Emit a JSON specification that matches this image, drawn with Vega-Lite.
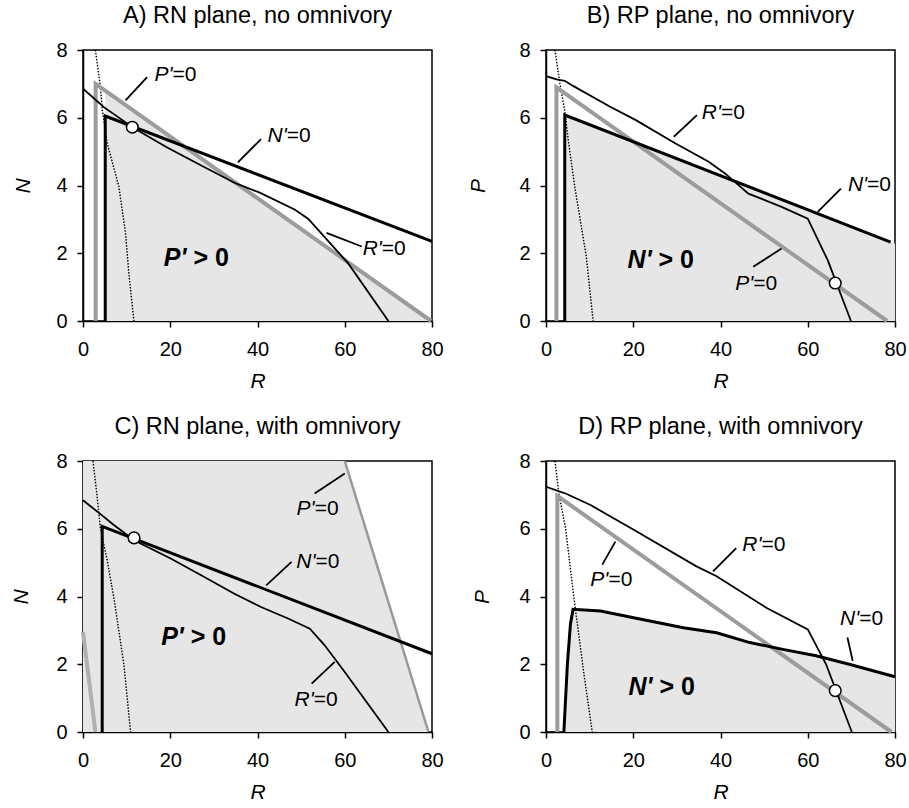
{
  "$schema": "https://vega.github.io/schema/vega-lite/v6.json",
  "padding": {"left": 10, "top": 2, "right": 5, "bottom": 5},
  "background": "white",
  "config": {
    "font": "Liberation Sans",
    "view": {"stroke": "black", "strokeWidth": 1.5},
    "axis": {"grid": false, "domainColor": "black", "domainWidth": 1.5, "tickColor": "black", "tickWidth": 1.5, "tickSize": 6, "labelFontSize": 20, "labelColor": "black", "labelPadding": 10, "labelFlush": false, "labelFont": "Liberation Sans", "titleFont": "Liberation Sans", "titleFontSize": 21, "titleFontStyle": "italic", "titleFontWeight": "normal", "titleColor": "black"},
    "axisX": {"titlePadding": 11, "labelPadding": 12},
    "axisY": {"titlePadding": 22},
    "title": {"fontSize": 23.5, "fontWeight": "normal", "color": "black", "font": "Liberation Sans", "offset": 13, "anchor": "middle"}
  },
  "datasets": {
    "lines": [
      {"p": "A", "s": "P_iso", "o": 1, "R": 2.9, "Y": 0},
      {"p": "A", "s": "P_iso", "o": 2, "R": 2.9, "Y": 7.0},
      {"p": "A", "s": "P_iso", "o": 3, "R": 79.8, "Y": 0},
      {"p": "A", "s": "N_iso", "o": 1, "R": 5.1, "Y": 0},
      {"p": "A", "s": "N_iso", "o": 2, "R": 5.1, "Y": 6.05},
      {"p": "A", "s": "N_iso", "o": 3, "R": 80, "Y": 2.35},
      {"p": "A", "s": "R_iso", "o": 1, "R": 0, "Y": 6.86},
      {"p": "A", "s": "R_iso", "o": 2, "R": 4.8, "Y": 6.31},
      {"p": "A", "s": "R_iso", "o": 3, "R": 7.5, "Y": 6.07},
      {"p": "A", "s": "R_iso", "o": 4, "R": 11.3, "Y": 5.72},
      {"p": "A", "s": "R_iso", "o": 5, "R": 19.3, "Y": 5.12},
      {"p": "A", "s": "R_iso", "o": 6, "R": 27, "Y": 4.6},
      {"p": "A", "s": "R_iso", "o": 7, "R": 34.7, "Y": 4.08},
      {"p": "A", "s": "R_iso", "o": 8, "R": 40.5, "Y": 3.79},
      {"p": "A", "s": "R_iso", "o": 9, "R": 48.5, "Y": 3.29},
      {"p": "A", "s": "R_iso", "o": 10, "R": 51.6, "Y": 3.02},
      {"p": "A", "s": "R_iso", "o": 11, "R": 60.8, "Y": 1.7},
      {"p": "A", "s": "R_iso", "o": 12, "R": 70, "Y": 0},
      {"p": "A", "s": "boundary", "o": 1, "R": 2.84, "Y": 8},
      {"p": "A", "s": "boundary", "o": 2, "R": 4.0, "Y": 6.9},
      {"p": "A", "s": "boundary", "o": 3, "R": 4.4, "Y": 6.26},
      {"p": "A", "s": "boundary", "o": 4, "R": 5.5, "Y": 5.27},
      {"p": "A", "s": "boundary", "o": 5, "R": 8.2, "Y": 3.98},
      {"p": "A", "s": "boundary", "o": 6, "R": 9.75, "Y": 2.6},
      {"p": "A", "s": "boundary", "o": 7, "R": 10.5, "Y": 1.41},
      {"p": "A", "s": "boundary", "o": 8, "R": 11.67, "Y": 0},

      {"p": "B", "s": "P_iso", "o": 1, "R": 2.4, "Y": 0},
      {"p": "B", "s": "P_iso", "o": 2, "R": 2.4, "Y": 6.9},
      {"p": "B", "s": "P_iso", "o": 3, "R": 78.2, "Y": 0},
      {"p": "B", "s": "N_iso", "o": 1, "R": 4.3, "Y": 0},
      {"p": "B", "s": "N_iso", "o": 2, "R": 4.3, "Y": 6.08},
      {"p": "B", "s": "N_iso", "o": 3, "R": 79, "Y": 2.33},
      {"p": "B", "s": "R_iso", "o": 1, "R": 0, "Y": 7.23},
      {"p": "B", "s": "R_iso", "o": 2, "R": 2.4, "Y": 7.13},
      {"p": "B", "s": "R_iso", "o": 3, "R": 4.3, "Y": 7.09},
      {"p": "B", "s": "R_iso", "o": 4, "R": 6.2, "Y": 6.94},
      {"p": "B", "s": "R_iso", "o": 5, "R": 14.6, "Y": 6.33},
      {"p": "B", "s": "R_iso", "o": 6, "R": 20.6, "Y": 5.93},
      {"p": "B", "s": "R_iso", "o": 7, "R": 29.7, "Y": 5.24},
      {"p": "B", "s": "R_iso", "o": 8, "R": 37.3, "Y": 4.7},
      {"p": "B", "s": "R_iso", "o": 9, "R": 41.1, "Y": 4.35},
      {"p": "B", "s": "R_iso", "o": 10, "R": 46.4, "Y": 3.76},
      {"p": "B", "s": "R_iso", "o": 11, "R": 54, "Y": 3.37},
      {"p": "B", "s": "R_iso", "o": 12, "R": 60, "Y": 3.02},
      {"p": "B", "s": "R_iso", "o": 13, "R": 64.6, "Y": 1.79},
      {"p": "B", "s": "R_iso", "o": 14, "R": 69.9, "Y": 0},
      {"p": "B", "s": "boundary", "o": 1, "R": 2.05, "Y": 8},
      {"p": "B", "s": "boundary", "o": 2, "R": 3.2, "Y": 7.0},
      {"p": "B", "s": "boundary", "o": 3, "R": 4.3, "Y": 6.2},
      {"p": "B", "s": "boundary", "o": 4, "R": 5.1, "Y": 5.34},
      {"p": "B", "s": "boundary", "o": 5, "R": 6.6, "Y": 3.96},
      {"p": "B", "s": "boundary", "o": 6, "R": 9.25, "Y": 1.89},
      {"p": "B", "s": "boundary", "o": 7, "R": 10.8, "Y": 0},

      {"p": "C", "s": "P_iso", "o": 1, "R": 60, "Y": 8},
      {"p": "C", "s": "P_iso", "o": 2, "R": 79.2, "Y": 0},
      {"p": "C", "s": "P_iso_low", "o": 1, "R": 0, "Y": 2.95},
      {"p": "C", "s": "P_iso_low", "o": 2, "R": 2.85, "Y": 0},
      {"p": "C", "s": "N_iso", "o": 1, "R": 4.4, "Y": 0},
      {"p": "C", "s": "N_iso", "o": 2, "R": 4.4, "Y": 6.07},
      {"p": "C", "s": "N_iso", "o": 3, "R": 80, "Y": 2.31},
      {"p": "C", "s": "R_iso", "o": 1, "R": 0, "Y": 6.84},
      {"p": "C", "s": "R_iso", "o": 2, "R": 4.8, "Y": 6.35},
      {"p": "C", "s": "R_iso", "o": 3, "R": 6.7, "Y": 6.15},
      {"p": "C", "s": "R_iso", "o": 4, "R": 11.7, "Y": 5.66},
      {"p": "C", "s": "R_iso", "o": 5, "R": 20.1, "Y": 5.12},
      {"p": "C", "s": "R_iso", "o": 6, "R": 27.5, "Y": 4.6},
      {"p": "C", "s": "R_iso", "o": 7, "R": 34.7, "Y": 4.08},
      {"p": "C", "s": "R_iso", "o": 8, "R": 40.8, "Y": 3.69},
      {"p": "C", "s": "R_iso", "o": 9, "R": 47, "Y": 3.35},
      {"p": "C", "s": "R_iso", "o": 10, "R": 52, "Y": 3.05},
      {"p": "C", "s": "R_iso", "o": 11, "R": 55.4, "Y": 2.56},
      {"p": "C", "s": "R_iso", "o": 12, "R": 60, "Y": 1.77},
      {"p": "C", "s": "R_iso", "o": 13, "R": 70, "Y": 0},
      {"p": "C", "s": "boundary", "o": 1, "R": 2.3, "Y": 8},
      {"p": "C", "s": "boundary", "o": 2, "R": 3.2, "Y": 6.99},
      {"p": "C", "s": "boundary", "o": 3, "R": 4.0, "Y": 6.0},
      {"p": "C", "s": "boundary", "o": 4, "R": 5.5, "Y": 5.1},
      {"p": "C", "s": "boundary", "o": 5, "R": 7.1, "Y": 3.94},
      {"p": "C", "s": "boundary", "o": 6, "R": 9.4, "Y": 1.97},
      {"p": "C", "s": "boundary", "o": 7, "R": 10.9, "Y": 0},

      {"p": "D", "s": "P_iso", "o": 1, "R": 2.6, "Y": 0},
      {"p": "D", "s": "P_iso", "o": 2, "R": 2.6, "Y": 6.97},
      {"p": "D", "s": "P_iso", "o": 3, "R": 79.2, "Y": 0},
      {"p": "D", "s": "N_iso", "o": 1, "R": 4.1, "Y": 0},
      {"p": "D", "s": "N_iso", "o": 2, "R": 4.9, "Y": 2.0},
      {"p": "D", "s": "N_iso", "o": 3, "R": 5.6, "Y": 3.18},
      {"p": "D", "s": "N_iso", "o": 4, "R": 6.2, "Y": 3.62},
      {"p": "D", "s": "N_iso", "o": 5, "R": 12.5, "Y": 3.57},
      {"p": "D", "s": "N_iso", "o": 6, "R": 20.1, "Y": 3.37},
      {"p": "D", "s": "N_iso", "o": 7, "R": 31.5, "Y": 3.08},
      {"p": "D", "s": "N_iso", "o": 8, "R": 39.1, "Y": 2.93},
      {"p": "D", "s": "N_iso", "o": 9, "R": 46.7, "Y": 2.64},
      {"p": "D", "s": "N_iso", "o": 10, "R": 54.3, "Y": 2.44},
      {"p": "D", "s": "N_iso", "o": 11, "R": 61.9, "Y": 2.25},
      {"p": "D", "s": "N_iso", "o": 12, "R": 69.5, "Y": 2.0},
      {"p": "D", "s": "N_iso", "o": 13, "R": 80, "Y": 1.63},
      {"p": "D", "s": "R_iso", "o": 1, "R": 0, "Y": 7.24},
      {"p": "D", "s": "R_iso", "o": 2, "R": 3.35, "Y": 7.09},
      {"p": "D", "s": "R_iso", "o": 3, "R": 4.5, "Y": 7.04},
      {"p": "D", "s": "R_iso", "o": 4, "R": 10.2, "Y": 6.7},
      {"p": "D", "s": "R_iso", "o": 5, "R": 20.1, "Y": 5.97},
      {"p": "D", "s": "R_iso", "o": 6, "R": 34.5, "Y": 4.89},
      {"p": "D", "s": "R_iso", "o": 7, "R": 39.1, "Y": 4.6},
      {"p": "D", "s": "R_iso", "o": 8, "R": 50.5, "Y": 3.67},
      {"p": "D", "s": "R_iso", "o": 9, "R": 60, "Y": 3.03},
      {"p": "D", "s": "R_iso", "o": 10, "R": 64.2, "Y": 2.0},
      {"p": "D", "s": "R_iso", "o": 11, "R": 70.1, "Y": 0},
      {"p": "D", "s": "boundary", "o": 1, "R": 2.05, "Y": 8},
      {"p": "D", "s": "boundary", "o": 2, "R": 3.0, "Y": 7.0},
      {"p": "D", "s": "boundary", "o": 3, "R": 4.5, "Y": 6.0},
      {"p": "D", "s": "boundary", "o": 4, "R": 6.4, "Y": 3.96},
      {"p": "D", "s": "boundary", "o": 5, "R": 8.7, "Y": 1.71},
      {"p": "D", "s": "boundary", "o": 6, "R": 10.6, "Y": 0}
    ],
    "shade": [
      {"p": "A", "R": 5.1, "Y": 6.8, "Y0": 0},
      {"p": "A", "R": 79.8, "Y": 0, "Y0": 0},
      {"p": "B", "R": 4.3, "Y": 6.08, "Y0": 0},
      {"p": "B", "R": 80, "Y": 2.28, "Y0": 0},
      {"p": "C", "R": 0, "Y": 8, "Y0": 0},
      {"p": "C", "R": 60, "Y": 8, "Y0": 0},
      {"p": "C", "R": 79.2, "Y": 0, "Y0": 0},
      {"p": "D", "R": 4.1, "Y": 0, "Y0": 0},
      {"p": "D", "R": 4.9, "Y": 2.0, "Y0": 0},
      {"p": "D", "R": 5.6, "Y": 3.18, "Y0": 0},
      {"p": "D", "R": 6.2, "Y": 3.62, "Y0": 0},
      {"p": "D", "R": 12.5, "Y": 3.57, "Y0": 0},
      {"p": "D", "R": 20.1, "Y": 3.37, "Y0": 0},
      {"p": "D", "R": 31.5, "Y": 3.08, "Y0": 0},
      {"p": "D", "R": 39.1, "Y": 2.93, "Y0": 0},
      {"p": "D", "R": 46.7, "Y": 2.64, "Y0": 0},
      {"p": "D", "R": 54.3, "Y": 2.44, "Y0": 0},
      {"p": "D", "R": 61.9, "Y": 2.25, "Y0": 0},
      {"p": "D", "R": 69.5, "Y": 2.0, "Y0": 0},
      {"p": "D", "R": 80, "Y": 1.63, "Y0": 0}
    ],
    "points": [
      {"p": "A", "R": 11.3, "Y": 5.72},
      {"p": "B", "R": 66.3, "Y": 1.12},
      {"p": "C", "R": 11.7, "Y": 5.73},
      {"p": "D", "R": 66.3, "Y": 1.22}
    ],
    "leaders": [
      {"p": "A", "R": 14.7, "Y": 7.2, "R2": 9.75, "Y2": 6.51},
      {"p": "A", "R": 40.8, "Y": 5.37, "R2": 35.5, "Y2": 4.68},
      {"p": "A", "R": 63.9, "Y": 2.2, "R2": 55.8, "Y2": 2.6},
      {"p": "B", "R": 34.6, "Y": 6.08, "R2": 29.3, "Y2": 5.44},
      {"p": "B", "R": 67.6, "Y": 3.91, "R2": 62.3, "Y2": 3.22},
      {"p": "B", "R": 47.5, "Y": 1.6, "R2": 54, "Y2": 2.14},
      {"p": "C", "R": 53.1, "Y": 7.04, "R2": 60, "Y2": 7.63},
      {"p": "C", "R": 47.8, "Y": 5.02, "R2": 42, "Y2": 4.33},
      {"p": "C", "R": 52.4, "Y": 1.43, "R2": 57.7, "Y2": 2.07},
      {"p": "D", "R": 43.6, "Y": 5.43, "R2": 38.3, "Y2": 4.74},
      {"p": "D", "R": 12.9, "Y": 4.94, "R2": 15.9, "Y2": 5.62},
      {"p": "D", "R": 69.1, "Y": 2.79, "R2": 70.3, "Y2": 2.1}
    ],
    "labels": [
      {"p": "A", "k": "iso", "a": "P'", "b": "=0", "R": 20.5, "Y": 7.26},
      {"p": "A", "k": "iso", "a": "N'", "b": "=0", "R": 46.7, "Y": 5.47},
      {"p": "A", "k": "iso", "a": "R'", "b": "=0", "R": 68.5, "Y": 2.12},
      {"p": "A", "k": "region", "a": "P'", "b": "> 0", "R": 23.7, "Y": 1.85},
      {"p": "B", "k": "iso", "a": "R'", "b": "=0", "R": 40.1, "Y": 6.13},
      {"p": "B", "k": "iso", "a": "N'", "b": "=0", "R": 73.6, "Y": 4.01},
      {"p": "B", "k": "iso", "a": "P'", "b": "=0", "R": 47.5, "Y": 1.1},
      {"p": "B", "k": "region", "a": "N'", "b": "> 0", "R": 24.2, "Y": 1.79},
      {"p": "C", "k": "iso", "a": "P'", "b": "=0", "R": 53.1, "Y": 6.59},
      {"p": "C", "k": "iso", "a": "N'", "b": "=0", "R": 53.3, "Y": 5.02},
      {"p": "C", "k": "iso", "a": "R'", "b": "=0", "R": 52.9, "Y": 0.94},
      {"p": "C", "k": "region", "a": "P'", "b": "> 0", "R": 23.1, "Y": 2.81},
      {"p": "D", "k": "iso", "a": "R'", "b": "=0", "R": 49.4, "Y": 5.53},
      {"p": "D", "k": "iso", "a": "P'", "b": "=0", "R": 14.3, "Y": 4.5},
      {"p": "D", "k": "iso", "a": "N'", "b": "=0", "R": 71.8, "Y": 3.33},
      {"p": "D", "k": "region", "a": "N'", "b": "> 0", "R": 24.4, "Y": 1.32}
    ]
  },
  "spacing": 21,
  "vconcat": [
    {
      "spacing": 114,
      "bounds": "flush",
      "hconcat": [
        {
          "title": "A) RN plane, no omnivory",
          "width": 349, "height": 271,
          "encoding": {
            "x": {"field": "R", "type": "quantitative", "scale": {"domain": [0, 80], "nice": false}, "axis": {"values": [0, 20, 40, 60, 80], "title": "R"}},
            "y": {"field": "Y", "type": "quantitative", "scale": {"domain": [0, 8], "nice": false}, "axis": {"values": [0, 2, 4, 6, 8], "title": "N", "titlePadding": 22}}
          },
          "layer": [
            {"data": {"name": "shade"}, "transform": [{"filter": "datum.p==='A'"}], "mark": {"type": "area", "color": "#e6e6e6", "opacity": 1}, "encoding": {"y2": {"field": "Y0"}}},
            {"data": {"name": "lines"}, "transform": [{"filter": "datum.p==='A' && datum.s==='boundary'"}], "mark": {"type": "line", "color": "black", "strokeWidth": 1.4, "strokeDash": [1.5, 1.5]}, "encoding": {"order": {"field": "o"}}},
            {"data": {"name": "lines"}, "transform": [{"filter": "datum.p==='A' && datum.s==='P_iso'"}], "mark": {"type": "line", "color": "#9c9c9c", "strokeWidth": 4}, "encoding": {"order": {"field": "o"}}},
            {"data": {"name": "lines"}, "transform": [{"filter": "datum.p==='A' && datum.s==='R_iso'"}], "mark": {"type": "line", "color": "black", "strokeWidth": 1.8}, "encoding": {"order": {"field": "o"}}},
            {"data": {"name": "lines"}, "transform": [{"filter": "datum.p==='A' && datum.s==='N_iso'"}], "mark": {"type": "line", "color": "black", "strokeWidth": 3}, "encoding": {"order": {"field": "o"}}},
            {"data": {"name": "leaders"}, "transform": [{"filter": "datum.p==='A'"}], "mark": {"type": "rule", "color": "black", "strokeWidth": 1.8}, "encoding": {"x2": {"field": "R2"}, "y2": {"field": "Y2"}}},
            {"data": {"name": "points"}, "transform": [{"filter": "datum.p==='A'"}], "mark": {"type": "circle", "fill": "white", "stroke": "black", "strokeWidth": 1.5, "size": 135, "opacity": 1}},
            {"data": {"name": "labels"}, "transform": [{"filter": "datum.p==='A' && datum.k==='iso'"}], "mark": {"type": "text", "fontStyle": "italic", "fontSize": 21, "align": "right", "baseline": "middle", "color": "black"}, "encoding": {"text": {"field": "a"}}},
            {"data": {"name": "labels"}, "transform": [{"filter": "datum.p==='A' && datum.k==='iso'"}], "mark": {"type": "text", "fontSize": 21, "align": "left", "baseline": "middle", "color": "black"}, "encoding": {"text": {"field": "b"}}},
            {"data": {"name": "labels"}, "transform": [{"filter": "datum.p==='A' && datum.k==='region'"}], "mark": {"type": "text", "fontStyle": "italic", "fontWeight": "bold", "fontSize": 25, "align": "right", "baseline": "middle", "color": "black"}, "encoding": {"text": {"field": "a"}}},
            {"data": {"name": "labels"}, "transform": [{"filter": "datum.p==='A' && datum.k==='region'"}], "mark": {"type": "text", "fontWeight": "bold", "fontSize": 25, "align": "left", "baseline": "middle", "dx": 7, "color": "black"}, "encoding": {"text": {"field": "b"}}}
          ]
        },
        {
          "title": "B) RP plane, no omnivory",
          "width": 349, "height": 271,
          "encoding": {
            "x": {"field": "R", "type": "quantitative", "scale": {"domain": [0, 80], "nice": false}, "axis": {"values": [0, 20, 40, 60, 80], "title": "R"}},
            "y": {"field": "Y", "type": "quantitative", "scale": {"domain": [0, 8], "nice": false}, "axis": {"values": [0, 2, 4, 6, 8], "title": "P", "titlePadding": 30}}
          },
          "layer": [
            {"data": {"name": "shade"}, "transform": [{"filter": "datum.p==='B'"}], "mark": {"type": "area", "color": "#e6e6e6", "opacity": 1}, "encoding": {"y2": {"field": "Y0"}}},
            {"data": {"name": "lines"}, "transform": [{"filter": "datum.p==='B' && datum.s==='boundary'"}], "mark": {"type": "line", "color": "black", "strokeWidth": 1.4, "strokeDash": [1.5, 1.5]}, "encoding": {"order": {"field": "o"}}},
            {"data": {"name": "lines"}, "transform": [{"filter": "datum.p==='B' && datum.s==='P_iso'"}], "mark": {"type": "line", "color": "#9c9c9c", "strokeWidth": 4}, "encoding": {"order": {"field": "o"}}},
            {"data": {"name": "lines"}, "transform": [{"filter": "datum.p==='B' && datum.s==='R_iso'"}], "mark": {"type": "line", "color": "black", "strokeWidth": 1.8}, "encoding": {"order": {"field": "o"}}},
            {"data": {"name": "lines"}, "transform": [{"filter": "datum.p==='B' && datum.s==='N_iso'"}], "mark": {"type": "line", "color": "black", "strokeWidth": 3}, "encoding": {"order": {"field": "o"}}},
            {"data": {"name": "leaders"}, "transform": [{"filter": "datum.p==='B'"}], "mark": {"type": "rule", "color": "black", "strokeWidth": 1.8}, "encoding": {"x2": {"field": "R2"}, "y2": {"field": "Y2"}}},
            {"data": {"name": "points"}, "transform": [{"filter": "datum.p==='B'"}], "mark": {"type": "circle", "fill": "white", "stroke": "black", "strokeWidth": 1.5, "size": 135, "opacity": 1}},
            {"data": {"name": "labels"}, "transform": [{"filter": "datum.p==='B' && datum.k==='iso'"}], "mark": {"type": "text", "fontStyle": "italic", "fontSize": 21, "align": "right", "baseline": "middle", "color": "black"}, "encoding": {"text": {"field": "a"}}},
            {"data": {"name": "labels"}, "transform": [{"filter": "datum.p==='B' && datum.k==='iso'"}], "mark": {"type": "text", "fontSize": 21, "align": "left", "baseline": "middle", "color": "black"}, "encoding": {"text": {"field": "b"}}},
            {"data": {"name": "labels"}, "transform": [{"filter": "datum.p==='B' && datum.k==='region'"}], "mark": {"type": "text", "fontStyle": "italic", "fontWeight": "bold", "fontSize": 25, "align": "right", "baseline": "middle", "color": "black"}, "encoding": {"text": {"field": "a"}}},
            {"data": {"name": "labels"}, "transform": [{"filter": "datum.p==='B' && datum.k==='region'"}], "mark": {"type": "text", "fontWeight": "bold", "fontSize": 25, "align": "left", "baseline": "middle", "dx": 7, "color": "black"}, "encoding": {"text": {"field": "b"}}}
          ]
        }
      ]
    },
    {
      "spacing": 114,
      "bounds": "flush",
      "hconcat": [
        {
          "title": "C) RN plane, with omnivory",
          "width": 349, "height": 271,
          "encoding": {
            "x": {"field": "R", "type": "quantitative", "scale": {"domain": [0, 80], "nice": false}, "axis": {"values": [0, 20, 40, 60, 80], "title": "R"}},
            "y": {"field": "Y", "type": "quantitative", "scale": {"domain": [0, 8], "nice": false}, "axis": {"values": [0, 2, 4, 6, 8], "title": "N", "titlePadding": 24}}
          },
          "layer": [
            {"data": {"name": "shade"}, "transform": [{"filter": "datum.p==='C'"}], "mark": {"type": "area", "color": "#e6e6e6", "opacity": 1}, "encoding": {"y2": {"field": "Y0"}}},
            {"data": {"name": "lines"}, "transform": [{"filter": "datum.p==='C' && datum.s==='boundary'"}], "mark": {"type": "line", "color": "black", "strokeWidth": 1.4, "strokeDash": [1.5, 1.5]}, "encoding": {"order": {"field": "o"}}},
            {"data": {"name": "lines"}, "transform": [{"filter": "datum.p==='C' && datum.s==='P_iso'"}], "mark": {"type": "line", "color": "#999999", "strokeWidth": 2.5}, "encoding": {"order": {"field": "o"}}},
            {"data": {"name": "lines"}, "transform": [{"filter": "datum.p==='C' && datum.s==='P_iso_low'"}], "mark": {"type": "line", "color": "#b0b0b0", "strokeWidth": 4}, "encoding": {"order": {"field": "o"}}},
            {"data": {"name": "lines"}, "transform": [{"filter": "datum.p==='C' && datum.s==='R_iso'"}], "mark": {"type": "line", "color": "black", "strokeWidth": 1.8}, "encoding": {"order": {"field": "o"}}},
            {"data": {"name": "lines"}, "transform": [{"filter": "datum.p==='C' && datum.s==='N_iso'"}], "mark": {"type": "line", "color": "black", "strokeWidth": 3}, "encoding": {"order": {"field": "o"}}},
            {"data": {"name": "leaders"}, "transform": [{"filter": "datum.p==='C'"}], "mark": {"type": "rule", "color": "black", "strokeWidth": 1.8}, "encoding": {"x2": {"field": "R2"}, "y2": {"field": "Y2"}}},
            {"data": {"name": "points"}, "transform": [{"filter": "datum.p==='C'"}], "mark": {"type": "circle", "fill": "white", "stroke": "black", "strokeWidth": 1.5, "size": 135, "opacity": 1}},
            {"data": {"name": "labels"}, "transform": [{"filter": "datum.p==='C' && datum.k==='iso'"}], "mark": {"type": "text", "fontStyle": "italic", "fontSize": 21, "align": "right", "baseline": "middle", "color": "black"}, "encoding": {"text": {"field": "a"}}},
            {"data": {"name": "labels"}, "transform": [{"filter": "datum.p==='C' && datum.k==='iso'"}], "mark": {"type": "text", "fontSize": 21, "align": "left", "baseline": "middle", "color": "black"}, "encoding": {"text": {"field": "b"}}},
            {"data": {"name": "labels"}, "transform": [{"filter": "datum.p==='C' && datum.k==='region'"}], "mark": {"type": "text", "fontStyle": "italic", "fontWeight": "bold", "fontSize": 25, "align": "right", "baseline": "middle", "color": "black"}, "encoding": {"text": {"field": "a"}}},
            {"data": {"name": "labels"}, "transform": [{"filter": "datum.p==='C' && datum.k==='region'"}], "mark": {"type": "text", "fontWeight": "bold", "fontSize": 25, "align": "left", "baseline": "middle", "dx": 7, "color": "black"}, "encoding": {"text": {"field": "b"}}}
          ]
        },
        {
          "title": "D) RP plane, with omnivory",
          "width": 349, "height": 271,
          "encoding": {
            "x": {"field": "R", "type": "quantitative", "scale": {"domain": [0, 80], "nice": false}, "axis": {"values": [0, 20, 40, 60, 80], "title": "R"}},
            "y": {"field": "Y", "type": "quantitative", "scale": {"domain": [0, 8], "nice": false}, "axis": {"values": [0, 2, 4, 6, 8], "title": "P", "titlePadding": 26}}
          },
          "layer": [
            {"data": {"name": "shade"}, "transform": [{"filter": "datum.p==='D'"}], "mark": {"type": "area", "color": "#e6e6e6", "opacity": 1}, "encoding": {"y2": {"field": "Y0"}}},
            {"data": {"name": "lines"}, "transform": [{"filter": "datum.p==='D' && datum.s==='boundary'"}], "mark": {"type": "line", "color": "black", "strokeWidth": 1.4, "strokeDash": [1.5, 1.5]}, "encoding": {"order": {"field": "o"}}},
            {"data": {"name": "lines"}, "transform": [{"filter": "datum.p==='D' && datum.s==='P_iso'"}], "mark": {"type": "line", "color": "#9c9c9c", "strokeWidth": 4}, "encoding": {"order": {"field": "o"}}},
            {"data": {"name": "lines"}, "transform": [{"filter": "datum.p==='D' && datum.s==='R_iso'"}], "mark": {"type": "line", "color": "black", "strokeWidth": 1.8}, "encoding": {"order": {"field": "o"}}},
            {"data": {"name": "lines"}, "transform": [{"filter": "datum.p==='D' && datum.s==='N_iso'"}], "mark": {"type": "line", "color": "black", "strokeWidth": 3}, "encoding": {"order": {"field": "o"}}},
            {"data": {"name": "leaders"}, "transform": [{"filter": "datum.p==='D'"}], "mark": {"type": "rule", "color": "black", "strokeWidth": 1.8}, "encoding": {"x2": {"field": "R2"}, "y2": {"field": "Y2"}}},
            {"data": {"name": "points"}, "transform": [{"filter": "datum.p==='D'"}], "mark": {"type": "circle", "fill": "white", "stroke": "black", "strokeWidth": 1.5, "size": 135, "opacity": 1}},
            {"data": {"name": "labels"}, "transform": [{"filter": "datum.p==='D' && datum.k==='iso'"}], "mark": {"type": "text", "fontStyle": "italic", "fontSize": 21, "align": "right", "baseline": "middle", "color": "black"}, "encoding": {"text": {"field": "a"}}},
            {"data": {"name": "labels"}, "transform": [{"filter": "datum.p==='D' && datum.k==='iso'"}], "mark": {"type": "text", "fontSize": 21, "align": "left", "baseline": "middle", "color": "black"}, "encoding": {"text": {"field": "b"}}},
            {"data": {"name": "labels"}, "transform": [{"filter": "datum.p==='D' && datum.k==='region'"}], "mark": {"type": "text", "fontStyle": "italic", "fontWeight": "bold", "fontSize": 25, "align": "right", "baseline": "middle", "color": "black"}, "encoding": {"text": {"field": "a"}}},
            {"data": {"name": "labels"}, "transform": [{"filter": "datum.p==='D' && datum.k==='region'"}], "mark": {"type": "text", "fontWeight": "bold", "fontSize": 25, "align": "left", "baseline": "middle", "dx": 7, "color": "black"}, "encoding": {"text": {"field": "b"}}}
          ]
        }
      ]
    }
  ]
}
